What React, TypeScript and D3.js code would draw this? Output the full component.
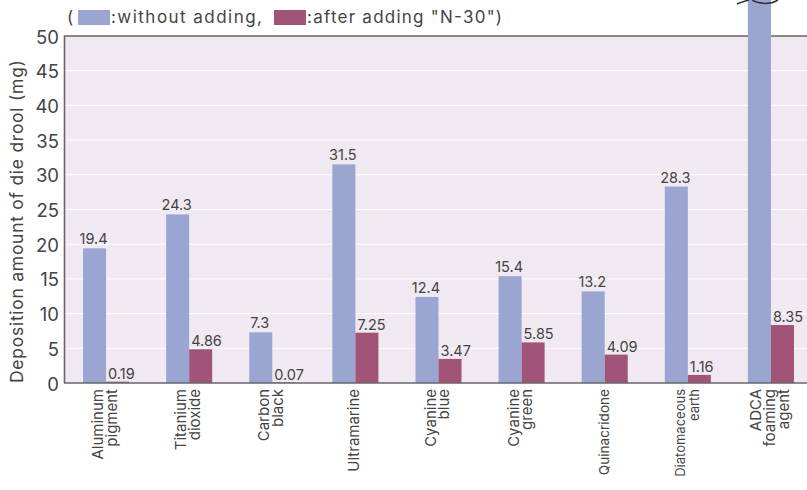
import React from "react";
import * as d3 from "d3";

const categories: string[][] = [
  ["Aluminum", "pigment"],
  ["Titanium", "dioxide"],
  ["Carbon", "black"],
  ["Ultramarine"],
  ["Cyanine", "blue"],
  ["Cyanine", "green"],
  ["Quinacridone"],
  ["Diatomaceous", "earth"],
  ["ADCA", "foaming", "agent"],
];
const withoutAdding = [19.4, 24.3, 7.3, 31.5, 12.4, 15.4, 13.2, 28.3, 56];
const withoutLabels = ["19.4", "24.3", "7.3", "31.5", "12.4", "15.4", "13.2", "28.3", ""];
const afterAdding = [0.19, 4.86, 0.07, 7.25, 3.47, 5.85, 4.09, 1.16, 8.35];
const afterLabels = ["0.19", "4.86", "0.07", "7.25", "3.47", "5.85", "4.09", "1.16", "8.35"];
const yTicks = [0, 5, 10, 15, 20, 25, 30, 35, 40, 45, 50];
const BLUE = "#9aa5d2";
const RED = "#a25378";
const INK = "#444444";
const FONT = "Inter, 'DejaVu Sans', sans-serif";
const categorySize = [15, 15, 15, 15, 15, 15, 13.6, 13, 15];

export default function App() {
  const y = d3.scaleLinear().domain([0, 50]).range([383, 36]);
  const x0 = d3
    .scaleBand<number>()
    .domain(categories.map((_, i) => i))
    .range([64.5, 812.5])
    .paddingInner(0.446)
    .paddingOuter(0.223);
  const x1 = d3.scaleBand<string>().domain(["a", "b"]).range([0, x0.bandwidth()]);

  return (
    <svg
      width={807}
      height={490}
      style={{ position: "absolute", left: 0, top: 0, background: "#fff" }}
      fontFamily={FONT}
    >
      <rect x={64} y={36} width={743} height={347} fill="#f0e9f1" />
      {yTicks.slice(1, -1).map((t) => (
        <line key={t} x1={64} x2={807} y1={y(t)} y2={y(t)} stroke="#fff" strokeWidth={1} />
      ))}
      {categories.map((_, i) => (
        <g key={i}>
          <rect
            x={x0(i)! + x1("a")!}
            y={y(withoutAdding[i])}
            width={x1.bandwidth()}
            height={y(0) - y(withoutAdding[i])}
            fill={BLUE}
          />
          <rect
            x={x0(i)! + x1("b")!}
            y={y(afterAdding[i])}
            width={x1.bandwidth()}
            height={y(0) - y(afterAdding[i])}
            fill={RED}
          />
          <text
            x={x0(i)! + x1("a")! + x1.bandwidth() / 2 - 1}
            y={y(withoutAdding[i]) - 4}
            textAnchor="middle"
            fontSize={14.5}
            fill={INK}
          >
            {withoutLabels[i]}
          </text>
          <text
            x={x0(i)! + x1("b")! + 2}
            y={y(afterAdding[i]) - 3}
            fontSize={14.5}
            fill={INK}
          >
            {afterLabels[i]}
          </text>
        </g>
      ))}
      <path d="M64.5 383V36H807" fill="none" stroke="#666" strokeWidth={1.6} />
      <path d="M64 383H807" fill="none" stroke="#666" strokeWidth={1.6} />
      <rect x={x0(8)!} y={0} width={x1.bandwidth()} height={37} fill={BLUE} />
      <path d="M737 4C741 2 745 1 749 0M752 0C758 4 770 5 778 0" fill="none" stroke="#333" strokeWidth={1.5} />
      {yTicks.map((t) => (
        <text key={t} x={59} y={y(t) + 7.5} textAnchor="end" fontSize={18.5} fill={INK}>
          {t}
        </text>
      ))}
      <text
        transform="translate(23,221.5) rotate(-90)"
        textAnchor="middle"
        fontSize={17.5}
        fill={INK}
        textLength={323}
      >
        Deposition amount of die drool (mg)
      </text>
      {categories.map((lines, i) => {
        const cx = x0(i)! + x0.bandwidth() / 2;
        return (
          <text
            key={i}
            transform={`translate(${cx},389) rotate(-90)`}
            fontSize={categorySize[i]}
            fill={INK}
            textAnchor="end"
          >
            {lines.map((l, k) => (
              <tspan key={k} x={0} y={(k - (lines.length - 1) / 2) * 13.6 + 4}>
                {l}
              </tspan>
            ))}
          </text>
        );
      })}
      <text x={67} y={23} fontSize={17} fill={INK}>(</text>
      <rect x={78} y={10} width={32} height={15} fill={BLUE} />
      <text x={111} y={23} fontSize={17} fill={INK} textLength={151}>:without adding,</text>
      <rect x={274} y={10} width={32} height={15} fill={RED} />
      <text x={307} y={23} fontSize={17} fill={INK} textLength={195}>:after adding "N-30")</text>
    </svg>
  );
}
